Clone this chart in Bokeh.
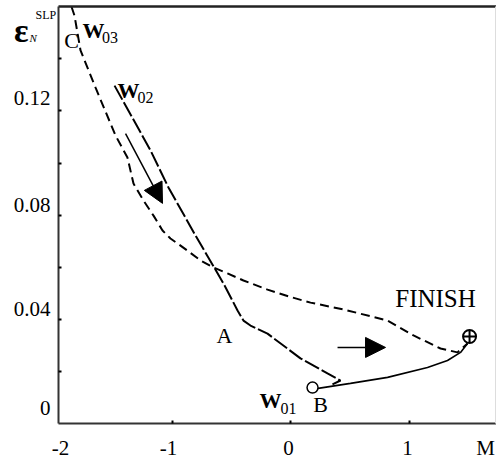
from bokeh.plotting import figure
from bokeh.models import (FixedTicker, Arrow, NormalHead, Range1d, LinearAxis)
from bokeh.core.properties import value
from bokeh.embed import file_html
from bokeh.resources import INLINE

# ---- data ----
w01_x = [0.219, 0.506, 0.819, 1.156, 1.325, 1.435, 1.494]
w01_y = [0.0134, 0.0154, 0.0177, 0.0215, 0.0242, 0.0273, 0.0307]

w02_x = [-1.485, -1.181, -1.030, -0.802, -0.565, -0.447, -0.397, -0.338, -0.194, 0.084, 0.312, 0.422, 0.354]
w02_y = [0.1297, 0.1048, 0.0906, 0.0722, 0.0537, 0.0434, 0.0395, 0.0376, 0.0345, 0.0250, 0.0192, 0.0165, 0.0150]

w03_x = [-1.848, -1.823, -1.772, -1.646, -1.477, -1.376, -1.325, -1.241, -1.156, -1.080, -1.013, -0.928,
         -0.759, -0.650, -0.532, -0.397, -0.194, -0.017, 0.169, 0.447, 0.819, 1.038, 1.266, 1.409, 1.494]
w03_y = [0.160, 0.1566, 0.1432, 0.1290, 0.1106, 0.1021, 0.0921, 0.0856, 0.0798, 0.0741, 0.0710, 0.0683,
         0.0626, 0.0599, 0.0576, 0.0549, 0.0514, 0.0488, 0.0464, 0.0438, 0.0395, 0.0338, 0.0288, 0.0273, 0.0307]

start_x = [0.186]
start_y = [0.0138]
finish_x = [1.511]
finish_y = [0.0334]

point_names = ["C", "A", "B"]
point_x = [-1.848, -0.557, 0.253]
point_y = [0.1470, 0.0338, 0.0073]

finish_label = ["FINISH"]
finish_label_x = [1.224]
finish_label_y = [0.0480]

w_names = ["W", "W", "W"]
w_sub = ["03", "02", "01"]
w_x = [-1.755, -1.460, -0.262]
w_y = [0.1509, 0.1278, 0.0088]
w_sub_x = [-1.590, -1.291, -0.084]
w_sub_y = [0.1482, 0.1251, 0.0058]

# y-axis symbol  eps_N^SLP
sym_main = ["ε"]
sym_main_x = [-2.333]
sym_main_y = [0.1509]
sym_sup = ["SLP"]
sym_sup_x = [-2.152]
sym_sup_y = [0.1570]
sym_sub = ["N"]
sym_sub_x = [-2.203]
sym_sub_y = [0.1480]

arrow_x0 = [-1.392, 0.397]
arrow_y0 = [0.1113, 0.0292]
arrow_x1 = [-1.080, 0.802]
arrow_y1 = [0.0845, 0.0292]

x_min, x_max = -1.958, 1.738
y_min, y_max = 0.0, 0.16
x_tick_pos = [-1.941, -1.030, -0.017, 0.987, 1.646]
x_tick_labels = ["-2", "-1", "0", "1", "M"]
x_minor = [-1, 0, 1]
y_tick_pos = [0.0061, 0.0441, 0.0837, 0.1248]
y_tick_labels = ["0", "0.04", "0.08", "0.12"]
y_minor = [0.02, 0.04, 0.06, 0.08, 0.10, 0.12, 0.14]

FONT = "Liberation Serif, Times New Roman, serif"

# frame covers the whole canvas; axes are placed with fixed_location (they take no panel space)
p = figure(width=496, height=462, output_backend="svg", toolbar_location=None, title=None,
           x_range=Range1d(-2.4473, 1.7384), y_range=Range1d(-0.01497, 0.16238),
           min_border_left=0, min_border_right=0, min_border_top=0, min_border_bottom=0)
p.grid.visible = False
p.background_fill_color = "white"
p.border_fill_color = "white"
p.outline_line_color = None

xa = p.xaxis[0]
ya = p.yaxis[0]
xa.fixed_location = y_min
xa.bounds = (x_min, x_max)
ya.fixed_location = x_min
ya.bounds = (y_min, y_max)

for ax in (xa, ya):
    ax.axis_line_color = "#333333"
    ax.axis_line_width = 2
    ax.major_tick_in = 0
    ax.major_tick_out = 0
    ax.minor_tick_in = 3
    ax.minor_tick_out = 0
    ax.minor_tick_line_color = "black"
    ax.minor_tick_line_width = 2
    ax.major_label_text_font = FONT
    ax.major_label_text_font_size = "21px"
    ax.major_label_text_color = "black"

xa.ticker = FixedTicker(ticks=x_tick_pos, minor_ticks=x_minor)
xa.major_label_overrides = dict(zip(x_tick_pos, x_tick_labels))
xa.major_label_standoff = 12
ya.ticker = FixedTicker(ticks=y_tick_pos, minor_ticks=y_minor)
ya.major_label_overrides = dict(zip(y_tick_pos, y_tick_labels))
ya.major_label_standoff = 8

# top border line of the box
top = LinearAxis(fixed_location=y_max, bounds=(x_min, x_max), ticker=FixedTicker(ticks=[]),
                 axis_line_color="#222222", axis_line_width=2.5,
                 major_tick_in=0, major_tick_out=0, minor_tick_in=0, minor_tick_out=0,
                 major_label_text_font_size="0px")
p.add_layout(top, "above")
# faint right edge
right = LinearAxis(fixed_location=x_max - 0.004, bounds=(y_min, y_max), ticker=FixedTicker(ticks=[]),
                   axis_line_color="#dddddd", axis_line_width=1,
                   major_tick_in=0, major_tick_out=0, minor_tick_in=0, minor_tick_out=0,
                   major_label_text_font_size="0px")
p.add_layout(right, "right")

# curves
p.line(w03_x, w03_y, line_color="black", line_width=2, line_dash="9 5")
p.line(w02_x, w02_y, line_color="black", line_width=2, line_dash="16 3")
p.line(w01_x, w01_y, line_color="black", line_width=1.6)

p.scatter(start_x, start_y, marker="circle", size=11, fill_color="white", line_color="black", line_width=1.5)
p.scatter(finish_x, finish_y, marker="circle_cross", size=13, fill_color="white", line_color="black", line_width=2)

# arrows
for i in range(len(arrow_x0)):
    p.add_layout(Arrow(end=NormalHead(size=20, fill_color="black", line_color="black"),
                       x_start=arrow_x0[i], y_start=arrow_y0[i], x_end=arrow_x1[i], y_end=arrow_y1[i],
                       line_color="black", line_width=1.5))

# labels
p.text(point_x, point_y, text=point_names, text_font=value(FONT), text_font_size="22px",
       text_align="center", text_baseline="middle", text_color="black")
p.text(finish_label_x, finish_label_y, text=finish_label, text_font=value(FONT), text_font_size="25px",
       text_align="center", text_baseline="middle", text_color="black")
p.text(w_x, w_y, text=w_names, text_font=value(FONT), text_font_size="22px", text_font_style="bold",
       text_align="left", text_baseline="alphabetic", text_color="black")
p.text(w_sub_x, w_sub_y, text=w_sub, text_font=value(FONT), text_font_size="16px",
       text_align="left", text_baseline="alphabetic", text_color="black")

p.text(sym_main_x, sym_main_y, text=sym_main, text_font=value(FONT), text_font_size="34px",
       text_font_style="bold", text_align="left", text_baseline="alphabetic", text_color="black")
p.text(sym_sup_x, sym_sup_y, text=sym_sup, text_font=value(FONT), text_font_size="12px",
       text_align="left", text_baseline="alphabetic", text_color="black")
p.text(sym_sub_x, sym_sub_y, text=sym_sub, text_font=value(FONT), text_font_size="11px",
       text_font_style="italic", text_align="left", text_baseline="alphabetic", text_color="black")

open("out.html", "w").write(file_html(p, INLINE))
